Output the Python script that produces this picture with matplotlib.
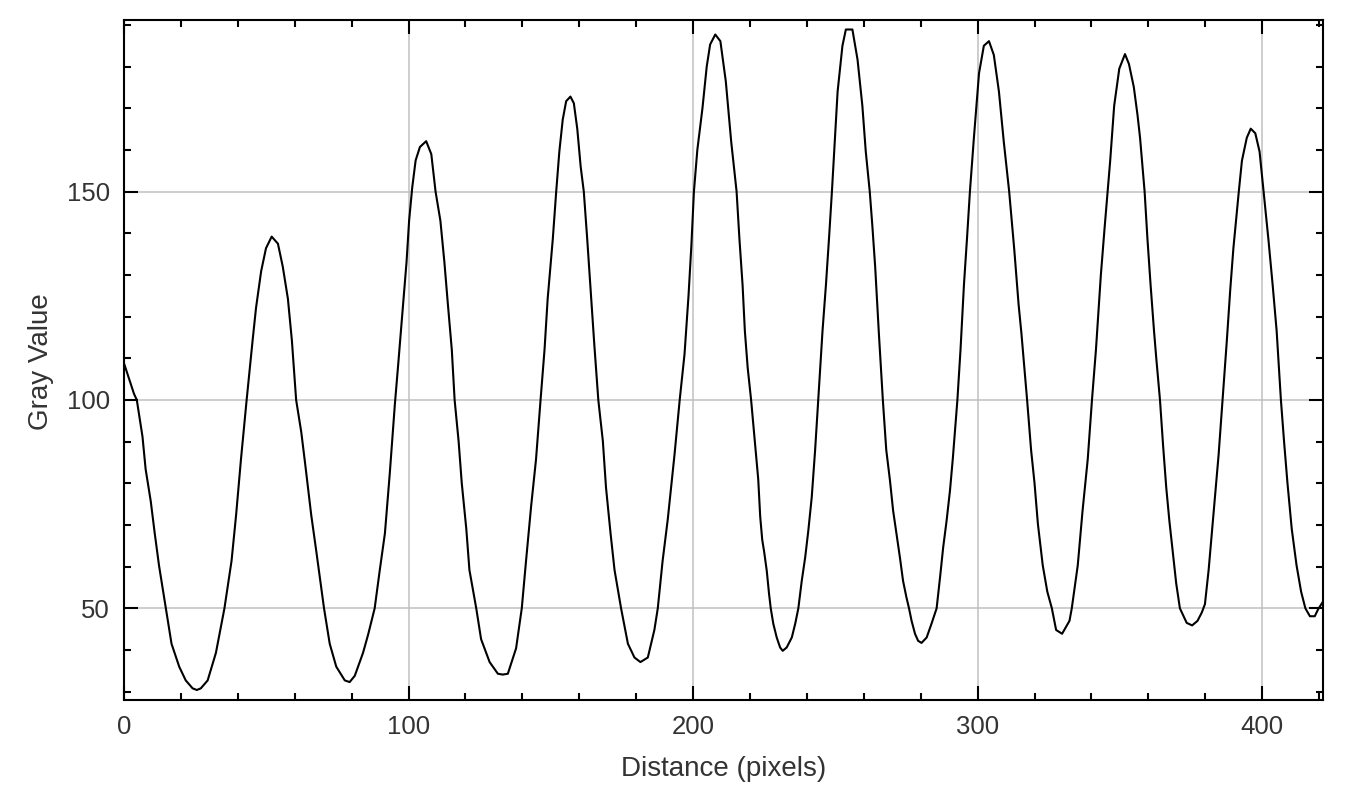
import matplotlib
matplotlib.use("Agg")
import matplotlib.pyplot as plt
from matplotlib.ticker import MultipleLocator

# Distance (pixels) and Gray Value
distance = [
    0.0, 3.5, 4.5, 6.5, 7.6, 9.4, 10.8, 12.3, 14.7, 16.7, 19.4, 21.7, 24.1, 25.6, 27.0,
    29.4, 32.3, 35.3, 37.8, 39.4, 41.1, 43.1, 45.2, 46.4, 48.2, 49.9, 51.9, 54.1,
    55.8, 57.6, 59.0, 60.5, 62.3, 63.7, 65.8, 67.6, 70.3, 72.3, 74.6, 77.6, 79.3,
    81.1, 84.0, 85.8, 88.1, 89.9, 91.7, 93.4, 95.2, 96.4, 98.1, 99.3, 100.2, 101.3,
    102.5, 104.0, 106.2, 108.0, 109.5, 111.2, 112.6, 113.8, 115.2, 116.2, 117.6,
    118.7, 120.3, 121.4, 123.8, 125.5, 128.5, 131.4, 133.1, 134.9, 137.8, 139.8,
    141.3, 143.1, 144.8, 146.4, 147.8, 148.9, 150.7, 151.9, 153.0, 154.2, 155.4,
    156.9, 158.1, 159.3, 160.5, 161.6, 162.8, 164.2, 165.3, 166.7, 168.3, 169.4,
    171.0, 172.4, 174.7, 177.1, 179.4, 181.5, 184.1, 186.4, 187.6, 189.3, 191.1,
    193.5, 195.3, 197.0, 198.4, 199.4, 200.3, 201.5, 203.3, 204.8, 206.0, 207.8,
    209.6, 211.5, 213.4, 215.3, 216.3, 217.4, 218.2, 219.2, 220.4, 221.7, 222.9,
    223.6, 224.3, 225.0, 225.9, 226.7, 227.3, 228.2, 229.4, 230.6, 231.5, 232.9,
    234.7, 235.9, 237.0, 238.2, 239.4, 240.5, 241.7, 242.9, 244.0, 245.5, 246.7,
    247.8, 248.8, 249.6, 250.8, 252.5, 253.7, 256.0, 257.8, 259.5, 260.7, 262.1,
    263.0, 264.0, 265.3, 266.7, 267.9, 269.2, 270.3, 271.5, 272.7, 273.8, 275.0,
    275.9, 276.8, 278.0, 279.1, 280.3, 282.1, 283.8, 285.6, 286.8, 287.9, 289.1,
    290.3, 291.3, 292.9, 294.0, 295.2, 296.3, 297.3, 298.7, 300.5, 302.2, 304.0,
    305.7, 307.5, 309.2, 311.1, 312.9, 314.4, 315.4, 317.4, 318.8, 320.0, 321.2,
    322.9, 324.5, 326.1, 327.6, 329.7, 332.3, 333.1, 335.2, 336.9, 338.7, 340.2,
    341.6, 343.3, 344.6, 345.7, 346.6, 348.0, 349.8, 351.8, 353.2, 354.9, 356.2,
    357.1, 358.7, 359.7, 360.8, 362.0, 362.8, 364.1, 365.2, 366.3, 367.4, 368.6,
    369.8, 371.1, 373.5, 375.4, 377.3, 378.8, 379.9, 381.2, 383.0, 384.7, 386.1,
    387.6, 388.8, 389.9, 391.8, 392.9, 394.6, 396.0, 397.6, 399.1, 400.5, 402.2,
    403.7, 405.1, 406.6, 407.7, 408.9, 410.4, 412.1, 413.7, 415.2, 416.8, 418.5,
    419.7, 421.2,
]
gray_value = [
    108.8, 101.5, 100.0, 91.2, 83.4, 75.7, 68.0, 60.3, 50.0, 41.5, 36.0, 32.7, 30.8, 30.4, 30.8,
    32.7, 39.3, 50.0, 61.4, 72.4, 85.7, 100.0, 114.3, 122.1, 130.9, 136.4, 139.2, 137.5,
    132.0, 124.3, 114.3, 100.0, 92.3, 84.5, 72.4, 63.6, 50.0, 41.5, 36.0, 32.7, 32.3,
    33.8, 39.3, 43.7, 50.0, 59.2, 68.0, 82.3, 99.0, 108.8, 123.2, 133.1, 143.0, 151.0,
    157.5, 160.7, 162.1, 159.0, 150.0, 143.0, 133.1, 123.2, 112.1, 100.0, 90.1,
    80.1, 69.1, 59.2, 50.0, 42.6, 37.1, 34.3, 34.1, 34.3, 40.4, 50.0,
    61.4, 74.6, 85.7, 100.0, 112.1, 124.3, 138.6, 150.0, 159.6, 167.3, 171.7,
    172.8, 171.2, 165.1, 156.0, 150.0, 138.6, 124.3, 113.2, 100.0, 90.1, 79.0,
    68.0, 59.2, 50.0, 41.5, 38.2, 37.1, 38.2, 44.8, 50.0, 61.4, 71.3,
    87.0, 100.0, 111.0, 125.0, 137.0, 150.0, 160.0, 170.0, 180.0, 185.3, 187.7,
    186.1, 176.5, 162.0, 150.0, 138.6, 127.6, 116.6, 107.7, 100.0, 90.0, 81.0,
    72.0, 66.5, 63.5, 59.0, 53.5, 50.0, 46.3, 43.0, 40.6, 39.8, 40.6,
    43.0, 46.3, 50.0, 56.6, 62.2, 68.6, 76.6, 88.0, 100.0, 116.6, 127.6,
    139.0, 150.0, 159.6, 174.0, 185.0, 188.9, 188.9, 181.7, 170.6, 159.6, 150.0,
    141.9, 132.0, 116.0, 100.0, 88.0, 80.7, 73.5, 67.9, 62.2, 56.6, 52.6,
    50.0, 47.0, 43.9, 42.2, 41.7, 43.0, 46.3, 50.0, 57.4, 64.6, 71.0,
    78.3, 86.0, 100.0, 112.1, 127.6, 139.0, 150.0, 162.9, 178.4, 185.0, 186.1,
    182.8, 174.0, 162.0, 150.0, 136.0, 123.0, 116.0, 100.0, 88.0, 80.1, 70.2,
    60.3, 54.0, 50.0, 44.8, 43.9, 47.0, 50.0, 60.3, 73.5, 85.7, 100.0,
    112.1, 129.8, 141.0, 150.0, 157.4, 170.6, 179.5, 183.0, 180.6, 175.1, 168.4,
    162.9, 150.0, 138.6, 127.6, 116.6, 110.0, 100.0, 89.0, 79.0, 71.0, 63.6,
    56.0, 50.0, 46.5, 45.9, 47.0, 49.0, 51.0, 59.2, 73.5, 86.8, 100.0,
    114.3, 126.5, 136.4, 150.0, 157.4, 162.9, 165.1, 164.0, 159.6, 150.0, 138.6,
    127.6, 116.6, 100.0, 90.1, 80.1, 69.1, 60.3, 54.0, 50.0, 48.1, 48.1,
    49.8, 51.4,
]

x_major = [0, 100, 200, 300, 400]
y_major = [50, 100, 150]

W, H = 1356, 789
fig = plt.figure(figsize=(W / 100, H / 100), dpi=100)
left, right, top, bottom = 124, 1323.3, 19.5, 700
ax = fig.add_axes([left / W, 1 - bottom / H, (right - left) / W, (bottom - top) / H])

ax.plot(distance, gray_value, color="black", linewidth=1.5, solid_joinstyle="round")

ax.set_xlim(0, 421.5)
ax.set_ylim(28.0, 191.3)

ax.set_xticks(x_major)
ax.set_yticks(y_major)
ax.xaxis.set_minor_locator(MultipleLocator(20))
ax.yaxis.set_minor_locator(MultipleLocator(10))

ax.grid(True, which="major", color="#c0c0c0", linewidth=1.1)
ax.set_axisbelow(True)

for s in ax.spines.values():
    s.set_linewidth(1.5)
    s.set_color("black")

font = "Liberation Sans"
ax.tick_params(which="both", direction="in", top=True, right=True, width=1.5, colors="black",
               labelcolor="#333333", labelsize=18.5)
ax.tick_params(which="major", length=10)
ax.tick_params(which="minor", length=5)
ax.tick_params(axis="x", which="major", pad=11)
ax.tick_params(axis="y", which="major", pad=10)
for lab in ax.get_xticklabels() + ax.get_yticklabels():
    lab.set_fontfamily(font)

fig.text(723.5 / W, 1 - 776 / H, "Distance (pixels)", ha="center", va="baseline",
         fontsize=20, family=font, color="#333333")
fig.text(48 / W, 1 - 362 / H, "Gray Value", ha="center", va="baseline", rotation=90,
         rotation_mode="anchor", fontsize=20, family=font, color="#333333")

fig.savefig("out.png", dpi=100, facecolor="white")
